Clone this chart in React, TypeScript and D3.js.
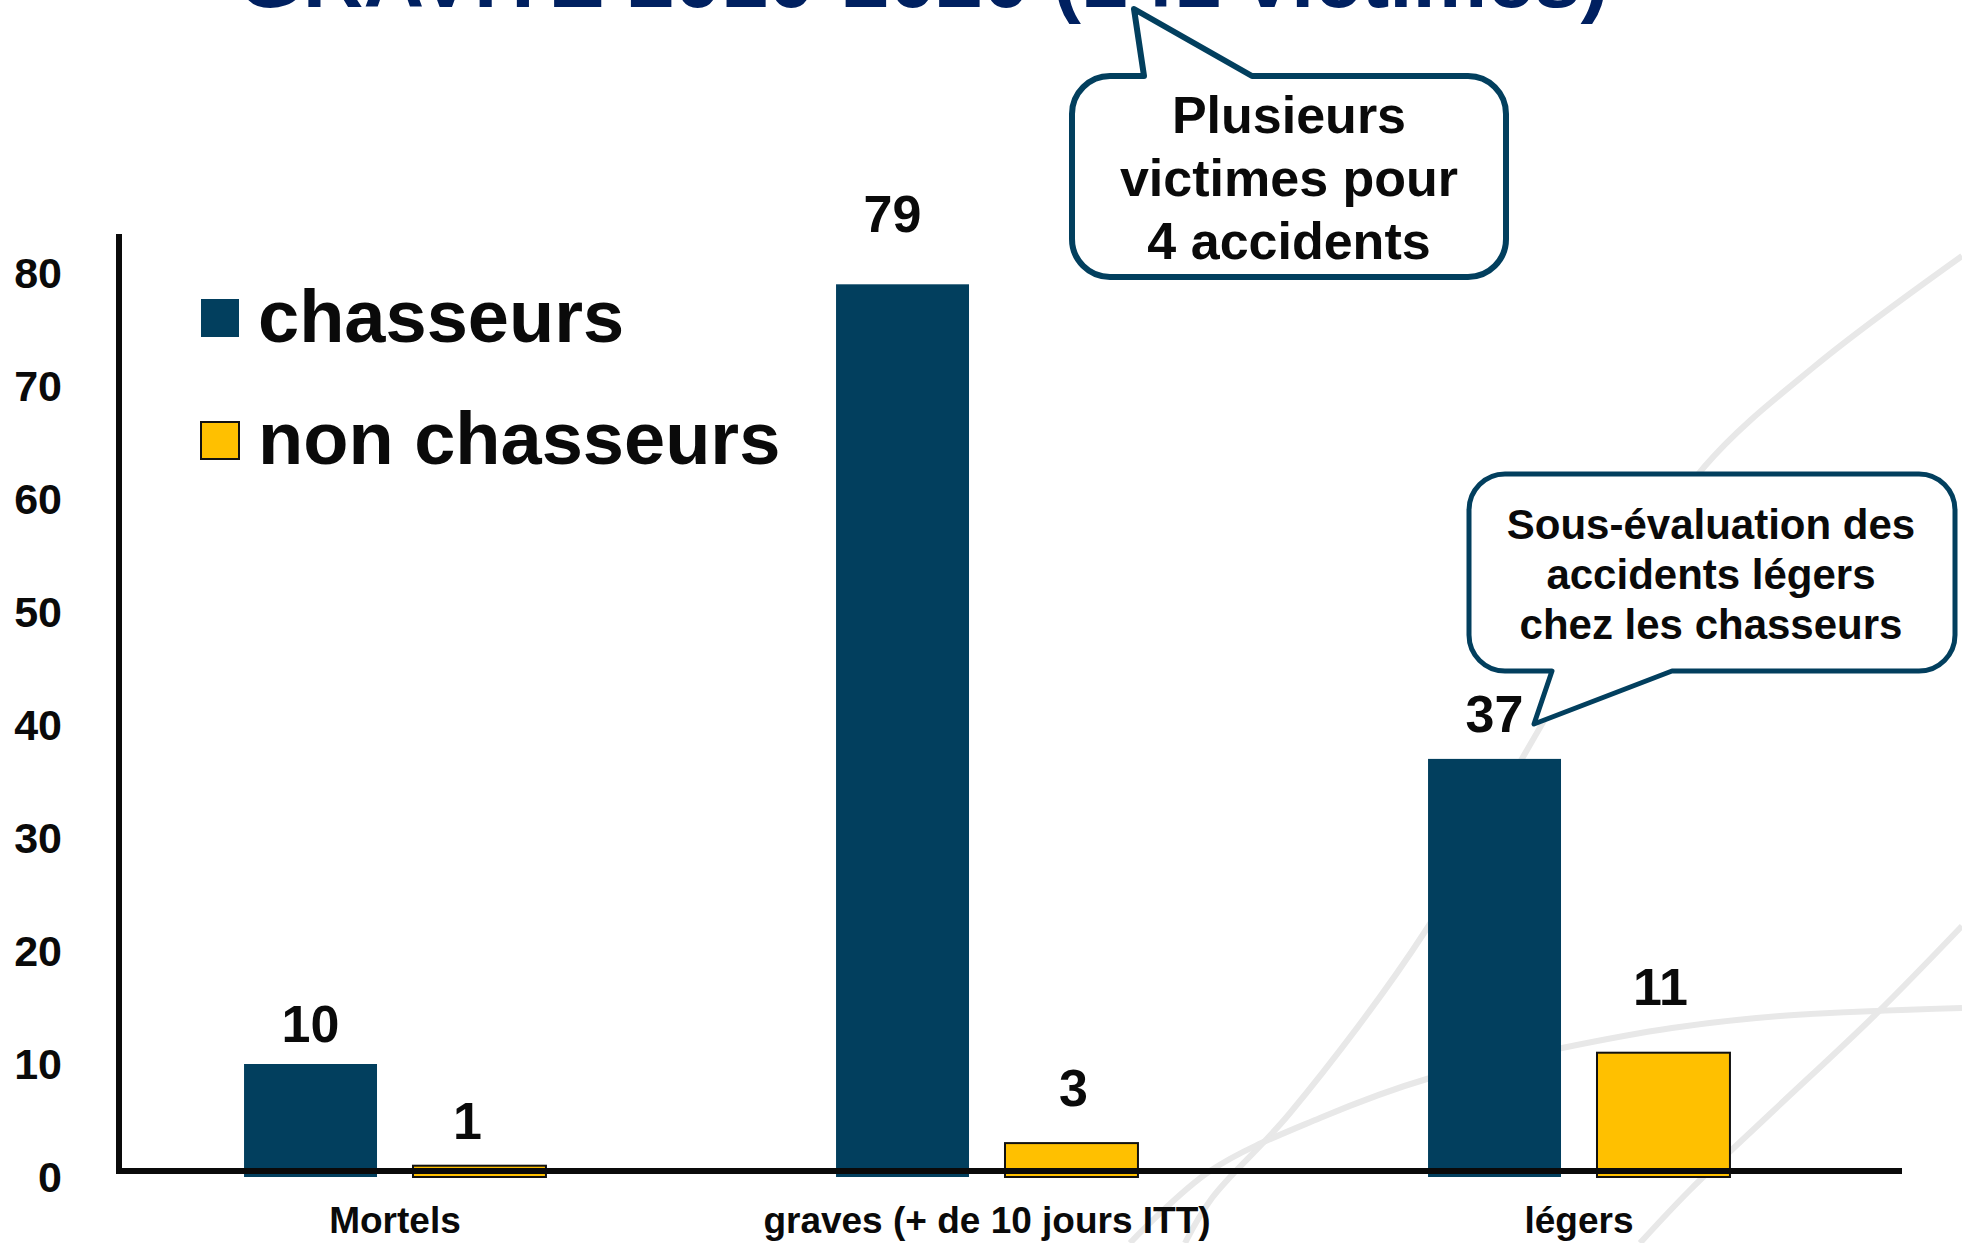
import * as d3 from "d3";
import React from "react";

const categories = ["Mortels", "graves (+ de 10 jours ITT)", "légers"];
const seriesNames = ["chasseurs", "non chasseurs"];
const chasseurs = [10, 79, 37];
const nonChasseurs = [1, 3, 11];
const yTicks = [0, 10, 20, 30, 40, 50, 60, 70, 80];

const title = "GRAVITE 2010-2020 (141 victimes)";
const note1 = ["Plusieurs", "victimes pour", "4 accidents"];
const note2 = ["Sous-évaluation des", "accidents légers", "chez les chasseurs"];

// label nudges (hand placed in the original slide)
const liftChasseurs = [22, 52, 27];
const liftNon = [27, 37, 48];
const shiftChasseurs = [0, -10, 0];
const shiftNon = [-12, 2, -3];

const W = 1962;
const H = 1243;
const FONT = "'Liberation Sans', Arial, sans-serif";
const NAVY = "#023F5E";
const GOLD = "#FFC000";

const roundedCallout = (x0, y0, x1, y1, r, tail) => {
  const p = d3.path();
  p.moveTo(x0 + r, y0);
  if (tail.side === "top") {
    p.lineTo(tail.a, y0);
    p.lineTo(tail.tip[0], tail.tip[1]);
    p.lineTo(tail.b, y0);
  }
  p.lineTo(x1 - r, y0);
  p.arcTo(x1, y0, x1, y0 + r, r);
  p.lineTo(x1, y1 - r);
  p.arcTo(x1, y1, x1 - r, y1, r);
  if (tail.side === "bottom") {
    p.lineTo(tail.b, y1);
    p.lineTo(tail.tip[0], tail.tip[1]);
    p.lineTo(tail.a, y1);
  }
  p.lineTo(x0 + r, y1);
  p.arcTo(x0, y1, x0, y1 - r, r);
  p.lineTo(x0, y0 + r);
  p.arcTo(x0, y0, x0 + r, y0, r);
  p.closePath();
  return p.toString();
};

// faint background swooshes of the slide template
const swooshes = [
  [[1962, 256], [1815, 366], [1705, 466], [1616, 600], [1523, 757], [1424, 933], [1290, 1113], [1212, 1198], [1185, 1243]],
  [[1962, 1008], [1780, 1016], [1672, 1028], [1562, 1048], [1430, 1078], [1320, 1118], [1210, 1171], [1130, 1243]],
  [[1962, 926], [1875, 1015], [1771, 1113], [1690, 1190], [1640, 1243]],
];

export default function App() {
  const x0 = d3.scaleBand().domain(categories).range([99, 1875]).paddingInner(0.49).paddingOuter(0.245);
  const x1 = d3.scaleBand().domain(seriesNames).range([0, x0.bandwidth()]).paddingInner(0.213);
  const y = d3.scaleLinear().domain([0, 80]).range([1177, 273]);

  const rows = categories.map((c, i) => ({
    c,
    vals: [chasseurs[i], nonChasseurs[i]],
    lifts: [liftChasseurs[i], liftNon[i]],
    shifts: [shiftChasseurs[i], shiftNon[i]],
  }));
  const line = d3.line().curve(d3.curveCatmullRom);

  return (
    <svg width={W} height={H} style={{ position: "absolute", left: 0, top: 0, background: "#fff" }} fontFamily={FONT} fontWeight="bold">
      {swooshes.map((s, i) => (
        <path key={i} d={line(s)} fill="none" stroke="#E8E8E8" strokeWidth={6} />
      ))}

      <text x={923} y={7} textAnchor="middle" fontSize={84} fill="#002060">{title}</text>

      {yTicks.map((t) => (
        <text key={t} x={62} y={y(t)} dy="0.36em" textAnchor="end" fontSize={43} fill="#0a0a0a">{t}</text>
      ))}

      {rows.map((r) => (
        <g key={r.c} transform={`translate(${x0(r.c)},0)`}>
          {seriesNames.map((s, j) => (
            <rect key={s} x={x1(s)} y={y(r.vals[j])} width={x1.bandwidth()} height={y(0) - y(r.vals[j])}
              fill={j === 0 ? NAVY : GOLD} stroke={j === 0 ? "none" : "#111"} strokeWidth={j === 0 ? 0 : 2} />
          ))}
          {seriesNames.map((s, j) => (
            <text key={s} x={x1(s) + x1.bandwidth() / 2 + r.shifts[j]} y={y(r.vals[j]) - r.lifts[j]}
              textAnchor="middle" fontSize={52} fill="#0a0a0a">{r.vals[j]}</text>
          ))}
          <text x={x0.bandwidth() / 2} y={1233} textAnchor="middle" fontSize={37} fill="#0a0a0a">{r.c}</text>
        </g>
      ))}

      <line x1={119} x2={119} y1={234} y2={1174} stroke="#0a0a0a" strokeWidth={6} />
      <line x1={116} x2={1902} y1={1171} y2={1171} stroke="#0a0a0a" strokeWidth={6} />

      <rect x={201} y={299} width={38} height={38} fill={NAVY} />
      <text x={258} y={342} fontSize={74} fill="#0a0a0a">{seriesNames[0]}</text>
      <rect x={201} y={422} width={38} height={37} fill={GOLD} stroke="#111" strokeWidth={2} />
      <text x={258} y={464} fontSize={74} fill="#0a0a0a">{seriesNames[1]}</text>

      <path d={roundedCallout(1072, 76, 1506, 277, 38, { side: "top", a: 1144, b: 1252, tip: [1134, 9] })}
        fill="#fff" stroke={NAVY} strokeWidth={6} strokeLinejoin="round" />
      {note1.map((t, i) => (
        <text key={t} x={1289} y={133 + i * 63} textAnchor="middle" fontSize={52} fill="#0a0a0a">{t}</text>
      ))}

      <path d={roundedCallout(1469, 474, 1955, 671, 36, { side: "bottom", a: 1552, b: 1672, tip: [1534, 724] })}
        fill="#fff" stroke={NAVY} strokeWidth={5} strokeLinejoin="round" />
      {note2.map((t, i) => (
        <text key={t} x={1711} y={539 + i * 50} textAnchor="middle" fontSize={42} fill="#0a0a0a">{t}</text>
      ))}
    </svg>
  );
}
